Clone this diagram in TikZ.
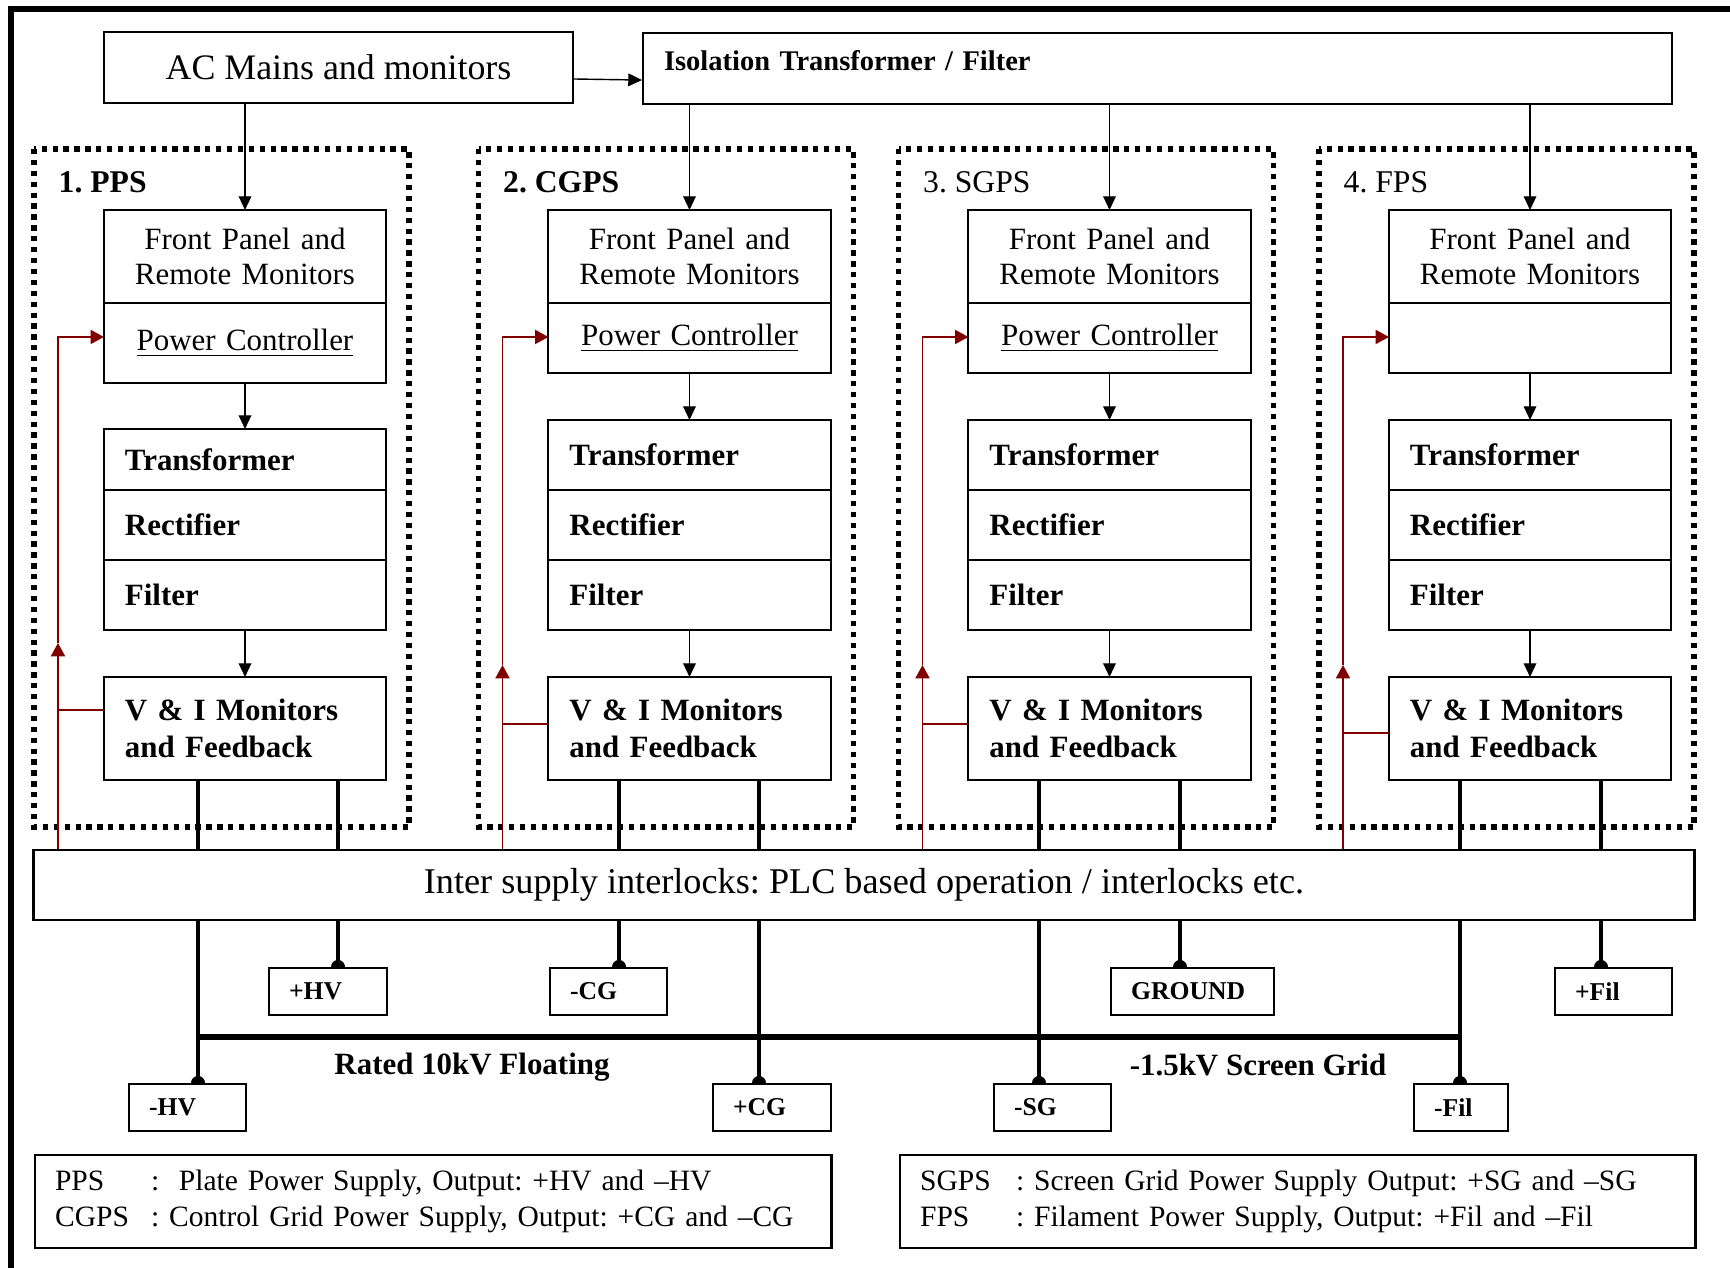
\documentclass[tikz,border=0pt]{standalone}
\usepackage{fontspec}
\setmainfont{Liberation Serif}
\usetikzlibrary{arrows.meta, positioning, calc}
\definecolor{fbred}{RGB}{128,0,0}

\begin{document}
\frenchspacing
\begin{tikzpicture}[x=0.01cm, y=-0.01cm,
  blk/.style={draw, line width=0.6pt, fill=white, outer sep=0pt, inner xsep=0.21cm, inner ysep=0pt,
    text width=2.4cm, align=left, font=\fontsize{8.8}{10.6}\selectfont\bfseries},
  cblk/.style={blk, align=center, font=\fontsize{8.8}{10}\selectfont},
  grp/.style={line width=1.5pt, dash pattern=on 1.5pt off 1.6pt},
  arr/.style={line width=0.4pt, -{Triangle[length=3.9pt,width=3.6pt]}},
  fb/.style={draw=fbred, line width=0.5pt},
  fbarr/.style={fb, -{Triangle[length=3.8pt,width=4pt]}},
  drop/.style={line width=1.2pt},
  term/.style={draw, line width=0.6pt, fill=white, inner xsep=0.2cm, inner ysep=0pt, align=left,
    minimum height=0.47cm, font=\fontsize{7.3}{8}\selectfont\bfseries},
  key/.style={draw, line width=0.6pt, anchor=north west, minimum height=0.93cm, inner xsep=0.2cm,
    align=left, font=\fontsize{8.4}{10.2}\selectfont}]
\useasboundingbox (0,0) rectangle (1730,1268);
% frame
\draw[line width=1.6pt] (11,1268) -- (11,9) -- (1730,9);

% supply side
\node[draw, line width=0.6pt, minimum width=4.69cm, minimum height=0.71cm,
  font=\fontsize{10.2}{12}\selectfont] (ac) at (338.5,67.5) {AC Mains and monitors};
\node[draw, line width=0.6pt, anchor=north west, minimum width=10.28cm, minimum height=0.71cm,
  text width=9.86cm, inner xsep=0.21cm, text depth=0.16cm, align=left,
  font=\fontsize{8.1}{10}\selectfont\bfseries] (iso) at (642,32) {Isolation Transformer / Filter};
\draw[arr] ([yshift=-0.115cm]ac.east) -- ([yshift=-0.115cm]iso.west);

\node[draw, line width=0.6pt, fill=white, minimum width=16.6cm, minimum height=0.7cm,
  font=\fontsize{10.3}{12}\selectfont] (lock) at (864,885)
  {Inter supply interlocks: PLC based operation / interlocks etc.};

% the four power supplies
\foreach \i/\cx/\pch/\trt/\trh/\fby/\tipy/\da/\db/\lbl/\pc in {
  1/245/0.80cm/429/0.61cm/710/643/198/338/{\bfseries 1. PPS}/{\underline{Power Controller}},
  2/689.5/0.70cm/420/0.70cm/724/665/619/759/{\bfseries 2. CGPS}/{\underline{Power Controller}},
  3/1109.5/0.70cm/420/0.70cm/724/665/1039/1180/{3. SGPS}/{\underline{Power Controller}},
  4/1530/0.70cm/420/0.70cm/733/665/1460/1601/{4. FPS}/{}} {
  \draw[grp] ({\cx-211},149) rectangle ({\cx+164},827);
  \node[anchor=west, inner sep=0pt, font=\fontsize{9}{10}\selectfont] (lbl\i) at ({\cx-187},182) {\lbl};
  \node[cblk, anchor=north, minimum height=0.93cm] (fp\i) at (\cx,210) {Front Panel and\\Remote Monitors};
  \node[cblk, below=0pt of fp\i, minimum height=\pch] (pc\i) {\pc};
  \node[blk, anchor=north, minimum height=\trh] (tr\i) at (\cx,\trt) {Transformer};
  \node[blk, below=0pt of tr\i, minimum height=0.70cm] (rc\i) {Rectifier};
  \node[blk, below=0pt of rc\i, minimum height=0.70cm] (fl\i) {Filter};
  \node[blk, anchor=north, minimum height=1.03cm] (vi\i) at (\cx,677) {V \& I Monitors\\and Feedback};
  \draw[arr] (pc\i) -- (tr\i);
  \draw[arr] (fl\i) -- (vi\i);
  % outputs into the interlock box
  \coordinate (da\i) at (\da,0);
  \coordinate (db\i) at (\db,0);
  \draw[drop] (da\i |- vi\i.south) -- (da\i |- lock.north);
  \draw[drop] (db\i |- vi\i.south) -- (db\i |- lock.north);
  % feedback loop
  \coordinate (rf\i) at ({\cx-187},\fby);
  \coordinate (rx\i) at ({\cx-187},\tipy);
  \coordinate (rt\i) at ({\cx-187},337);
  \draw[fb] (vi\i.west |- rf\i) -- (rf\i);
  \draw[fbarr] (rx\i |- lock.north) -- (rx\i);
  \draw[fbarr] (rx\i) -- (rt\i) -- (pc\i.west |- rt\i);
}
\draw[arr] (fp1.north |- ac.south) -- (fp1.north);
\foreach \i in {2,3,4}
  \draw[arr] (fp\i.north |- iso.south) -- (fp\i.north);

% output terminals
\foreach \nm/\txt/\l/\t/\tw/\d in {mhv/-HV/128/1083/0.77cm/da1, phv/+HV/268/967/0.78cm/db1,
  mcg/-CG/549/967/0.77cm/da2, pcg/+CG/712/1083/0.78cm/db2,
  msg/-SG/993/1083/0.77cm/da3, gnd/GROUND/1110/967/1.23cm/db3,
  mfil/-Fil/1413/1083/0.54cm/da4, pfil/+Fil/1554/967/0.77cm/db4} {
  \node[term, anchor=north west, text width=\tw] (\nm) at (\l,\t) {\txt};
  \draw[drop] (\d |- lock.south) -- (\d |- \nm.north);
  \fill (\d |- \nm.north) ++(-0.07cm,0) arc[start angle=180, end angle=0, radius=0.07cm];
}
\coordinate (bus) at (0,1037);
\draw[line width=1.45pt] (da1 |- bus) -- (da4 |- bus);
\node[font=\fontsize{8.8}{10}\selectfont\bfseries] (flt) at (472,1067) {Rated 10kV Floating};
\node[font=\fontsize{8.8}{10}\selectfont\bfseries] (sgl) at (1258,1065) {-1.5kV Screen Grid};

% legend
\node[key, text width=7.56cm] (keyl) at (34,1154)
  {\mbox{\makebox[0.96cm][l]{PPS}:\ \ Plate Power Supply, Output: +HV and --HV}\\
   \mbox{\makebox[0.96cm][l]{CGPS}: Control Grid Power Supply, Output: +CG and --CG}};
\node[key, text width=7.55cm] (keyr) at (899,1154)
  {\mbox{\makebox[0.96cm][l]{SGPS}: Screen Grid Power Supply Output: +SG and --SG}\\
   \mbox{\makebox[0.96cm][l]{FPS}: Filament Power Supply, Output: +Fil and --Fil}};
\end{tikzpicture}
\end{document}
